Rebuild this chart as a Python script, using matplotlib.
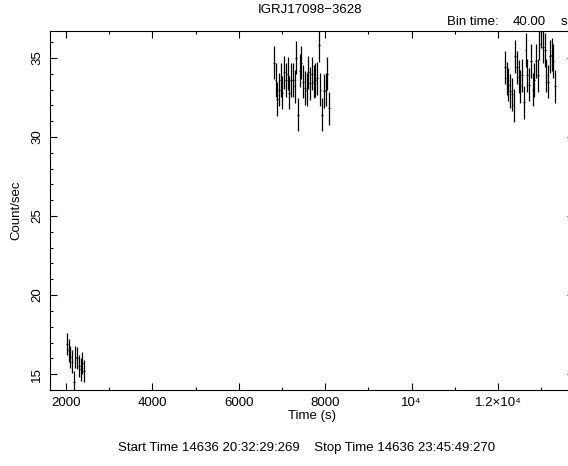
import matplotlib
matplotlib.use("Agg")
import matplotlib.pyplot as plt
from matplotlib.ticker import MultipleLocator, FixedLocator, FixedFormatter
import numpy as np

plt.rcParams['font.family'] = ['Liberation Sans', 'DejaVu Sans']

title = "IGRJ17098\u22123628"
bin_time = 40.0
start_text = "Start Time 14636 20:32:29:269    Stop Time 14636 23:45:49:270"

# cluster 1
t1_start = 2020
rate1 = [16.9, 16.5, 16.1, 15.8, 14.5, 16.1, 16.0, 15.5, 15.3, 15.7, 15.2]
err1 = 0.7
# cluster 2
t2_start = 6810
rate2 = [34.7, 33.6, 32.4, 33.0, 33.6, 32.8, 34.1, 33.6, 34.0, 32.8, 33.6, 33.6,
         33.2, 35.0, 31.4, 34.2, 34.7, 33.5, 33.1, 33.0, 34.1, 33.4, 34.0, 33.5,
         33.6, 33.7, 35.8, 33.0, 31.4, 32.9, 33.0, 34.0, 31.8]
err2 = 1.05
# cluster 3
t3_start = 12160
rate3 = [34.4, 33.7, 33.3, 32.9, 32.7, 32.0, 35.1, 34.4, 33.8, 33.2, 33.9, 32.2,
         35.5, 33.9, 33.3, 34.8, 33.0, 33.6, 34.8, 33.9, 35.9, 36.7, 35.7, 35.5,
         33.9, 33.5, 35.1, 35.2, 34.8, 33.2]
err3 = 1.05

xtick_vals = [2000, 4000, 6000, 8000, 10000, 12000]
xtick_labels = ["2000", "4000", "6000", "8000", "10\u2074", "1.2\u00d710\u2074"]

fig = plt.figure(figsize=(5.68, 4.66), dpi=100)
ax_w_px = 524
ax = fig.add_axes([50/568, 76/466, ax_w_px/568, 359/466])

for t0, r, e in [(t1_start, rate1, err1), (t2_start, rate2, err2), (t3_start, rate3, err3)]:
    t = t0 + bin_time * np.arange(len(r))
    ax.errorbar(t, r, yerr=e, xerr=bin_time/2, fmt='none', ecolor='black',
                elinewidth=0.9, capsize=0)

ax.set_xlim(1630, 1630 + ax_w_px/0.0432)
ax.set_ylim(14.0, 36.7)

ax.xaxis.set_major_locator(FixedLocator(xtick_vals))
ax.xaxis.set_major_formatter(FixedFormatter(xtick_labels))
ax.xaxis.set_minor_locator(MultipleLocator(1000))
ax.yaxis.set_major_locator(MultipleLocator(5))
ax.yaxis.set_minor_locator(MultipleLocator(1))
ax.tick_params(which='both', direction='in', top=True, right=True, labelsize=9.5,
               width=0.8, colors='black')
ax.tick_params(which='major', length=5)
ax.tick_params(which='minor', length=2.5)
ax.tick_params(axis='x', pad=5)
for lab in ax.get_yticklabels():
    lab.set_rotation(90)
    lab.set_va('center')
ax.tick_params(axis='y', pad=5)
for s in ax.spines.values():
    s.set_linewidth(0.8)

ax.set_xlabel("Time (s)", fontsize=9.5, labelpad=1)
ax.set_ylabel("Count/sec", fontsize=9.5, labelpad=6)

fig.text(310/568, 1 - 10/466, title, ha='center', va='center', fontsize=9.5)
fig.text(447/568, 1 - 22/466, "Bin time:", ha='left', va='center', fontsize=9.5)
fig.text(513/568, 1 - 22/466, "40.00", ha='left', va='center', fontsize=9.5)
fig.text(561/568, 1 - 22/466, "s", ha='left', va='center', fontsize=9.5)
fig.text(307/568, 1 - 448/466, start_text, ha='center', va='center', fontsize=9.5)

fig.savefig("out.png", dpi=100)
